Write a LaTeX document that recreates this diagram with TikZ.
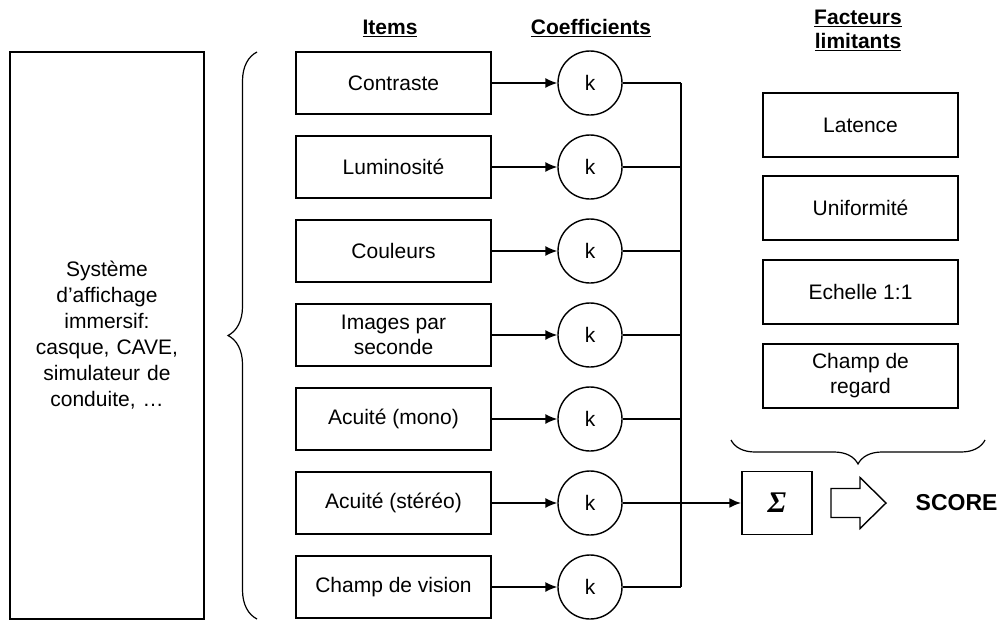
\documentclass[tikz,border=0pt]{standalone}
\usepackage{fontspec}
\setmainfont{Liberation Sans}
\newfontfamily\sigfont{Liberation Serif}
\usetikzlibrary{arrows.meta,decorations.pathreplacing}
\begin{document}
\begin{tikzpicture}[x=1pt,y=-1pt, line width=1.4pt,
  txt/.style={font=\fontsize{21}{25}\selectfont},
  itembox/.style={draw, txt, minimum width=195pt, minimum height=62pt, align=center, inner sep=2pt},
  coef/.style={draw, circle, txt, minimum size=64pt, inner sep=0pt},
  limbox/.style={draw, txt, minimum width=195pt, minimum height=64pt, align=center, inner sep=2pt},
  hdr/.style={font=\bfseries\fontsize{21}{24}\selectfont, align=center, inner sep=0pt},
  link/.style={-{Latex[length=12pt,width=10pt]}},
  bracestyle/.style={line width=1.2pt, decorate}
]
\useasboundingbox (0,0) rectangle (1000,621);

% headers
\node[hdr] (hItems) at (390,28) {\underline{Items}};
\node[hdr] (hCoef) at (591,28) {\underline{Coefficients}};
\node[hdr] (hFact) at (858,30) {\underline{Facteurs}\\\underline{limitants}};

% system box
\node[draw, font=\fontsize{21}{26}\selectfont, minimum width=194pt, minimum height=567pt, text width=180pt, align=center, inner sep=0pt] (sys) at (107,335.5)
  {Système\\d’affichage\\immersif:\\casque, CAVE,\\simulateur de\\conduite, …};

% left brace
\draw[bracestyle, decoration={brace, amplitude=29pt}] (257,619) -- (257,52);

% items, coefficients, collector
\foreach \i/\t/\yy in {1/Contraste/83, 2/Luminosité/167, 3/Couleurs/251, 4/{Images par\\seconde}/335, 5/Acuité (mono)/419, 6/Acuité (stéréo)/503, 7/Champ de vision/587}{
  \node[itembox] (it\i) at (393.5,\yy) {\t};
  \node[coef] (k\i) at (590,\yy) {k};
  \coordinate (c\i) at (681,\yy);
  \draw[link] (it\i) -- (k\i);
  \draw (k\i) -- (c\i);
}
\draw (c1) -- (c7);

% limiting factors
\node[limbox] (f1) at (860.5,125) {Latence};
\node[limbox] (f2) at (860.5,208) {Uniformité};
\node[limbox] (f3) at (860.5,292) {Echelle 1:1};
\node[limbox] (f4) at (860.5,376) {Champ de\\regard};

% right brace
\draw[bracestyle, decoration={brace, amplitude=24pt}] (985,440) -- (731,440);

% sum
\node[draw, minimum width=70pt, minimum height=63pt, inner sep=0pt] (sum) at (777,503)
  {\sigfont\fontsize{30}{32}\selectfont\bfseries\itshape Σ};
\draw[line width=2.4pt, -{Latex[length=12pt,width=10pt]}] (c6) -- (sum.west);

% hollow arrow
\coordinate (ha) at (831,503);
\draw (ha) ++(0,-14.5) -- ++(29,0) -- ++(0,-11) -- ++(26,25.5) -- ++(-26,25.5) -- ++(0,-11) -- ++(-29,0) -- cycle;

% score
\node[font=\bfseries\fontsize{23}{25}\selectfont, anchor=west, inner sep=0pt] (score) at (915,503) {SCORE};
\end{tikzpicture}
\end{document}
